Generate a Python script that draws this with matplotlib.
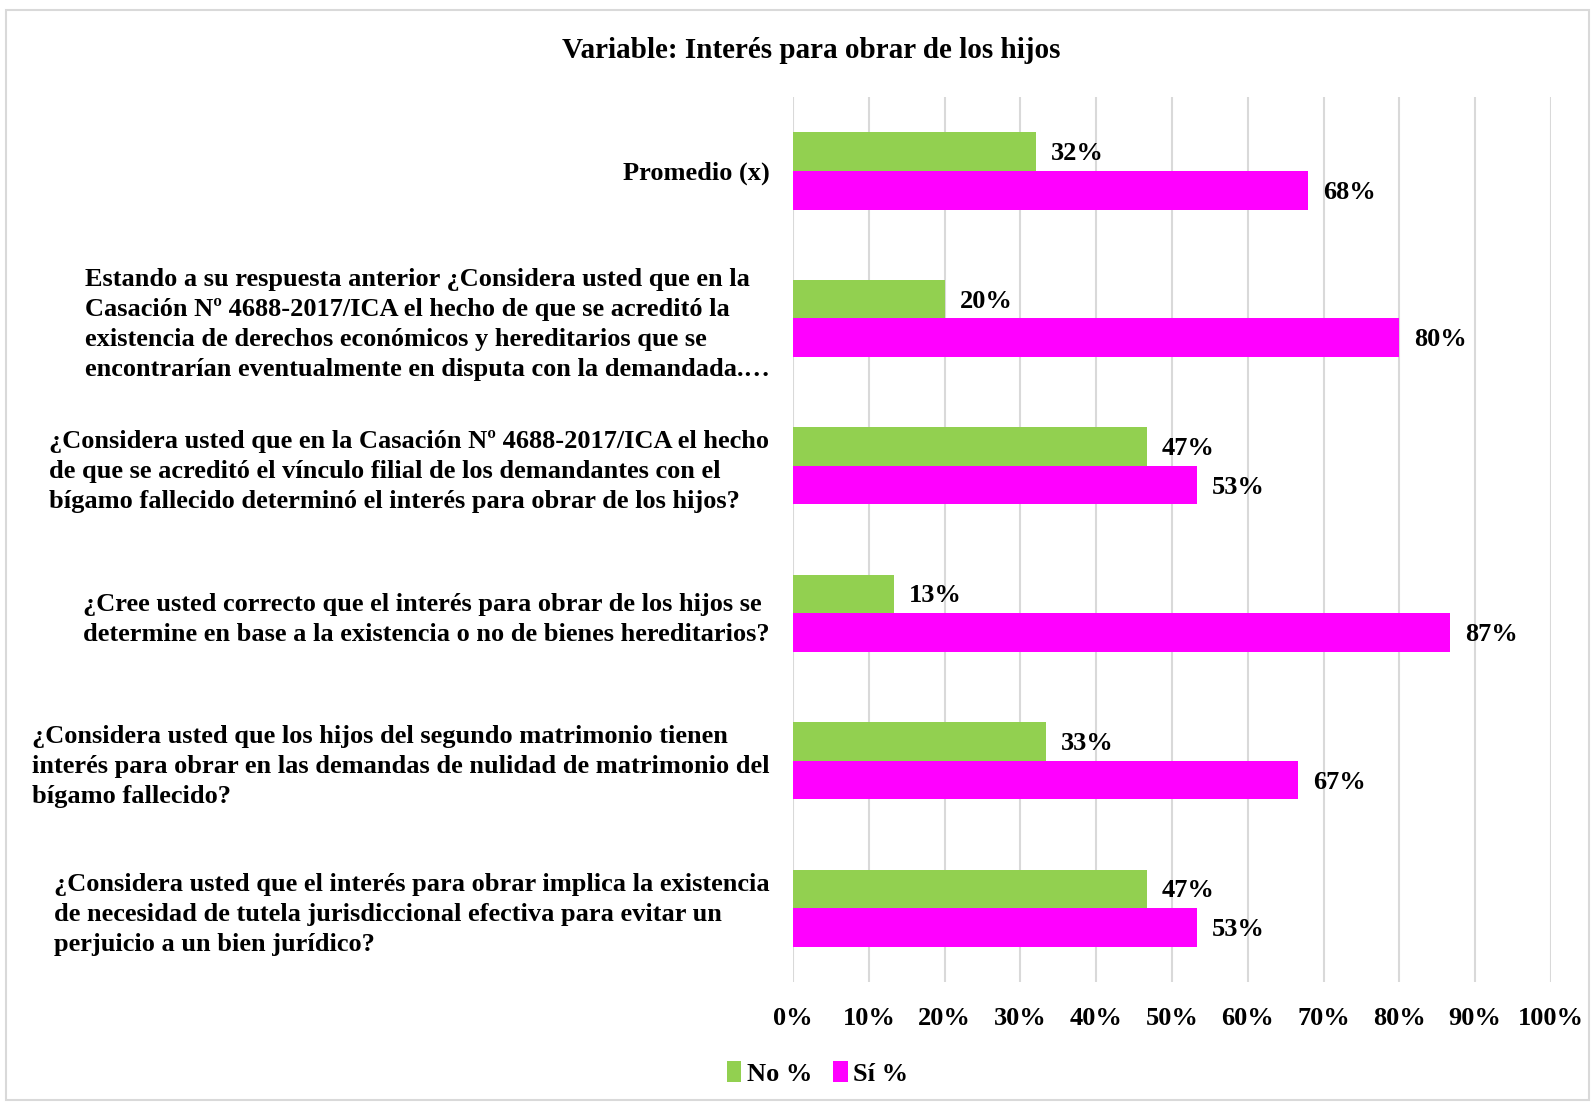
import numpy as np
import matplotlib
matplotlib.use('Agg')
import matplotlib.pyplot as plt
from matplotlib.patches import Rectangle

# data (top to bottom as shown in the chart)
categories = [
    'Promedio (x)',
    'Estando a su respuesta anterior ¿Considera usted que en la\n'
    'Casación Nº 4688-2017/ICA el hecho de que se acreditó la\n'
    'existencia de derechos económicos y hereditarios que se\n'
    'encontrarían eventualmente en disputa con la demandada.…',
    '¿Considera usted que en la Casación Nº 4688-2017/ICA el hecho\n'
    'de que se acreditó el vínculo filial de los demandantes con el\n'
    'bígamo fallecido determinó el interés para obrar de los hijos?',
    '¿Cree usted correcto que el interés para obrar de los hijos se\n'
    'determine en base a la existencia o no de bienes hereditarios?',
    '¿Considera usted que los hijos del segundo matrimonio tienen\n'
    'interés para obrar en las demandas de nulidad de matrimonio del\n'
    'bígamo fallecido?',
    '¿Considera usted que el interés para obrar implica la existencia\n'
    'de necesidad de tutela jurisdiccional efectiva para evitar un\n'
    'perjuicio a un bien jurídico?',
]
no_pct = [32.0, 20.0, 46.67, 13.33, 33.33, 46.67]
si_pct = [68.0, 80.0, 53.33, 86.67, 66.67, 53.33]
series_names = ['No %', 'Sí %']
x_ticks = [0, 10, 20, 30, 40, 50, 60, 70, 80, 90, 100]

GREEN = '#92D050'
MAGENTA = '#FF00FF'
FONT = 'Liberation Serif'
FS = 19

plt.rcParams['font.family'] = [FONT, 'DejaVu Serif']
plt.rcParams['font.weight'] = 'bold'

fig = plt.figure(figsize=(15.95, 11.04), dpi=100)
ax = fig.add_axes([0.4972, 0.1105, 0.4752, 0.8015])

y = np.arange(len(categories))
h = 0.262
b1 = ax.barh(y - h / 2, no_pct, height=h, color=GREEN, label=series_names[0], zorder=3)
b2 = ax.barh(y + h / 2, si_pct, height=h, color=MAGENTA, label=series_names[1], zorder=3)

for bars in (b1, b2):
    for rect in bars:
        v = rect.get_width()
        ax.annotate(f'{v:.0f}%', (v, rect.get_y() + rect.get_height() / 2),
                    xytext=(15, -2), textcoords='offset pixels',
                    ha='left', va='center', fontsize=FS, fontweight='bold')

ax.set_xlim(0, 100)
ax.set_ylim(len(categories) - 0.5, -0.5)
ax.set_xticks(x_ticks)
ax.set_xticklabels([f'{t}%' for t in x_ticks], fontsize=FS, fontweight='bold')
ax.set_yticks(y)
ax.set_yticklabels(categories, fontsize=FS, fontweight='bold',
                   multialignment='left', linespacing=1.38)
ax.tick_params(axis='both', length=0)
ax.tick_params(axis='x', pad=18)
ax.tick_params(axis='y', pad=17)
ax.xaxis.grid(True, color='#D9D9D9', linewidth=1.5, zorder=0)
ax.set_axisbelow(True)
for s in ax.spines.values():
    s.set_visible(False)

fig.text(0.5085, 0.954, 'Variable: Interés para obrar de los hijos',
         ha='center', va='center', fontsize=21, fontweight='bold')

leg = fig.legend(handles=[b1, b2], loc='center', bbox_to_anchor=(0.5125, 0.028),
                 ncol=2, frameon=False, fontsize=FS, handlelength=0.55, handleheight=0.9,
                 handletextpad=0.2, columnspacing=0.8)

fig.patches.append(Rectangle((0.004, 0.004), 0.992, 0.987, transform=fig.transFigure,
                             fill=False, edgecolor='#D9D9D9', linewidth=1.5))

fig.savefig('out.png', dpi=100, facecolor='white')
